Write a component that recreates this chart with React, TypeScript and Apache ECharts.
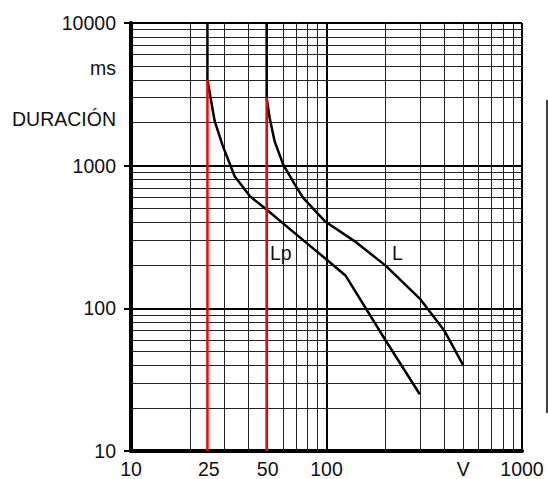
import React, { useEffect, useRef } from "react";
import * as echarts from "echarts";

// Curve Lp (voltage V, duration ms)
const lpVoltage = [24.6, 24.6, 26.8, 29.5, 33.9, 40.6, 49.3, 77, 100, 125, 200, 300];
const lpDuration = [10000, 4000, 2050, 1370, 843, 610, 493, 296, 220, 170, 60, 25];
// Curve L
const lVoltage = [49.4, 49.4, 51.2, 54.3, 60, 68.8, 76, 98, 139, 200, 300, 400, 500];
const lDuration = [10000, 3000, 2160, 1480, 1020, 740, 595, 408, 296, 200, 117, 70, 40];
// Red threshold lines
const redLpVoltage = [24.6, 24.6];
const redLpDuration = [10, 4000];
const redLVoltage = [49.4, 49.4];
const redLDuration = [10, 3000];

// Tick labels
const xLabelValues = [10, 25, 50, 100, 500, 1000];
const xLabelTexts = ["10", "25", "50", "100", "V", "1000"];
const yLabelValues = [10, 100, 1000, 2130, 4840, 10000];
const yLabelTexts = ["10", "100", "1000", "DURACIÓN", "ms", "10000"];
const yTickValues = [10, 100, 1000, 10000];

// Minor grid lines
const xMinorGrid = [20, 30, 40, 50, 60, 70, 80, 90, 200, 300, 400, 500, 600, 700, 800, 900];
const yMinorGrid = [
  20, 30, 40, 50, 60, 70, 80, 90,
  200, 300, 400, 500, 600, 700, 800, 900,
  2000, 3000, 4000, 5000, 6000, 7000, 8000, 9000,
];

const FONT = "'Liberation Sans', Arial, sans-serif";
const FS = 19.5;

const zip = (a: number[], b: number[]) => a.map((v, i) => [v, b[i]]);

const lookup = (vals: number[], texts: string[]) => (v: number) => {
  for (let i = 0; i < vals.length; i++) {
    if (Math.abs(Math.log10(vals[i]) - v) < 1e-6) return texts[i];
  }
  return "";
};

export default function App() {
  const ref = useRef<HTMLDivElement>(null);
  useEffect(() => {
    if (!ref.current) return;
    const chart = echarts.init(ref.current, null, { renderer: "svg" });
    chart.setOption({
      animation: false,
      backgroundColor: "#fff",
      grid: { left: 131, right: 26, top: 23, bottom: 27 },
      xAxis: [
        {
          type: "log",
          logBase: 10,
          min: 10,
          max: 1000,
          axisLine: { show: true, lineStyle: { color: "#000", width: 4 } },
          axisTick: { show: false },
          axisLabel: { show: false },
          splitLine: { show: true, lineStyle: { color: "#000", width: 2 } },
        },
        {
          type: "value",
          min: 1,
          max: 3,
          position: "bottom",
          axisLine: { show: false },
          axisTick: { show: false },
          splitLine: { show: false },
          axisLabel: {
            customValues: xLabelValues.map(Math.log10),
            formatter: lookup(xLabelValues, xLabelTexts),
            fontSize: FS,
            fontFamily: FONT,
            color: "#111",
            margin: 8,
            showMinLabel: true,
            showMaxLabel: true,
          },
        },
      ],
      yAxis: [
        {
          type: "log",
          logBase: 10,
          min: 10,
          max: 10000,
          axisLine: { show: true, lineStyle: { color: "#000", width: 4 } },
          axisTick: { show: false },
          axisLabel: { show: false },
          splitLine: { show: true, lineStyle: { color: "#000", width: 2 } },
        },
        {
          type: "value",
          min: 1,
          max: 4,
          position: "left",
          axisLine: { show: false },
          axisTick: {
            show: true,
            customValues: yTickValues.map(Math.log10),
            length: 7,
            lineStyle: { color: "#000", width: 2 },
          },
          splitLine: { show: false },
          axisLabel: {
            customValues: yLabelValues.map(Math.log10),
            formatter: lookup(yLabelValues, yLabelTexts),
            fontSize: FS,
            fontFamily: FONT,
            color: "#111",
            margin: 15,
            showMinLabel: true,
            showMaxLabel: true,
          },
        },
      ],
      series: [
        {
          type: "line",
          xAxisIndex: 0,
          yAxisIndex: 0,
          data: [],
          z: 1,
          silent: true,
          markLine: {
            silent: true,
            symbol: ["none", "none"],
            label: { show: false },
            lineStyle: { color: "#222", width: 1, type: "solid" },
            emphasis: { disabled: true },
            data: [
              ...xMinorGrid.map((v) => ({ xAxis: v })),
              ...yMinorGrid.map((v) => ({ yAxis: v })),
            ],
          },
        },
        {
          type: "line",
          name: "redLp",
          xAxisIndex: 0,
          yAxisIndex: 0,
          data: zip(redLpVoltage, redLpDuration),
          showSymbol: false,
          lineStyle: { color: "#ff0000", width: 2.5 },
          z: 6,
        },
        {
          type: "line",
          name: "redL",
          xAxisIndex: 0,
          yAxisIndex: 0,
          data: zip(redLVoltage, redLDuration),
          showSymbol: false,
          lineStyle: { color: "#ff0000", width: 2.5 },
          z: 6,
        },
        {
          type: "line",
          name: "Lp",
          xAxisIndex: 0,
          yAxisIndex: 0,
          data: zip(lpVoltage, lpDuration),
          showSymbol: false,
          lineStyle: { color: "#000", width: 2.5 },
          z: 5,
        },
        {
          type: "line",
          name: "L",
          xAxisIndex: 0,
          yAxisIndex: 0,
          data: zip(lVoltage, lDuration),
          showSymbol: false,
          lineStyle: { color: "#000", width: 2.5 },
          z: 5,
        },
      ],
      graphic: [
        {
          type: "text",
          left: 270,
          top: 243,
          z: 10,
          style: { text: "Lp", fontSize: FS, fontFamily: FONT, fill: "#111" },
        },
        {
          type: "text",
          left: 392,
          top: 243,
          z: 10,
          style: { text: "L", fontSize: FS, fontFamily: FONT, fill: "#111" },
        },
        {
          type: "line",
          shape: { x1: 547, y1: 100, x2: 547, y2: 413 },
          style: { stroke: "#000", lineWidth: 1.5 },
        },
      ],
    });
    return () => chart.dispose();
  }, []);
  return (
    <div
      ref={ref}
      style={{ position: "fixed", left: 0, top: 0, width: 548, height: 479 }}
    />
  );
}
